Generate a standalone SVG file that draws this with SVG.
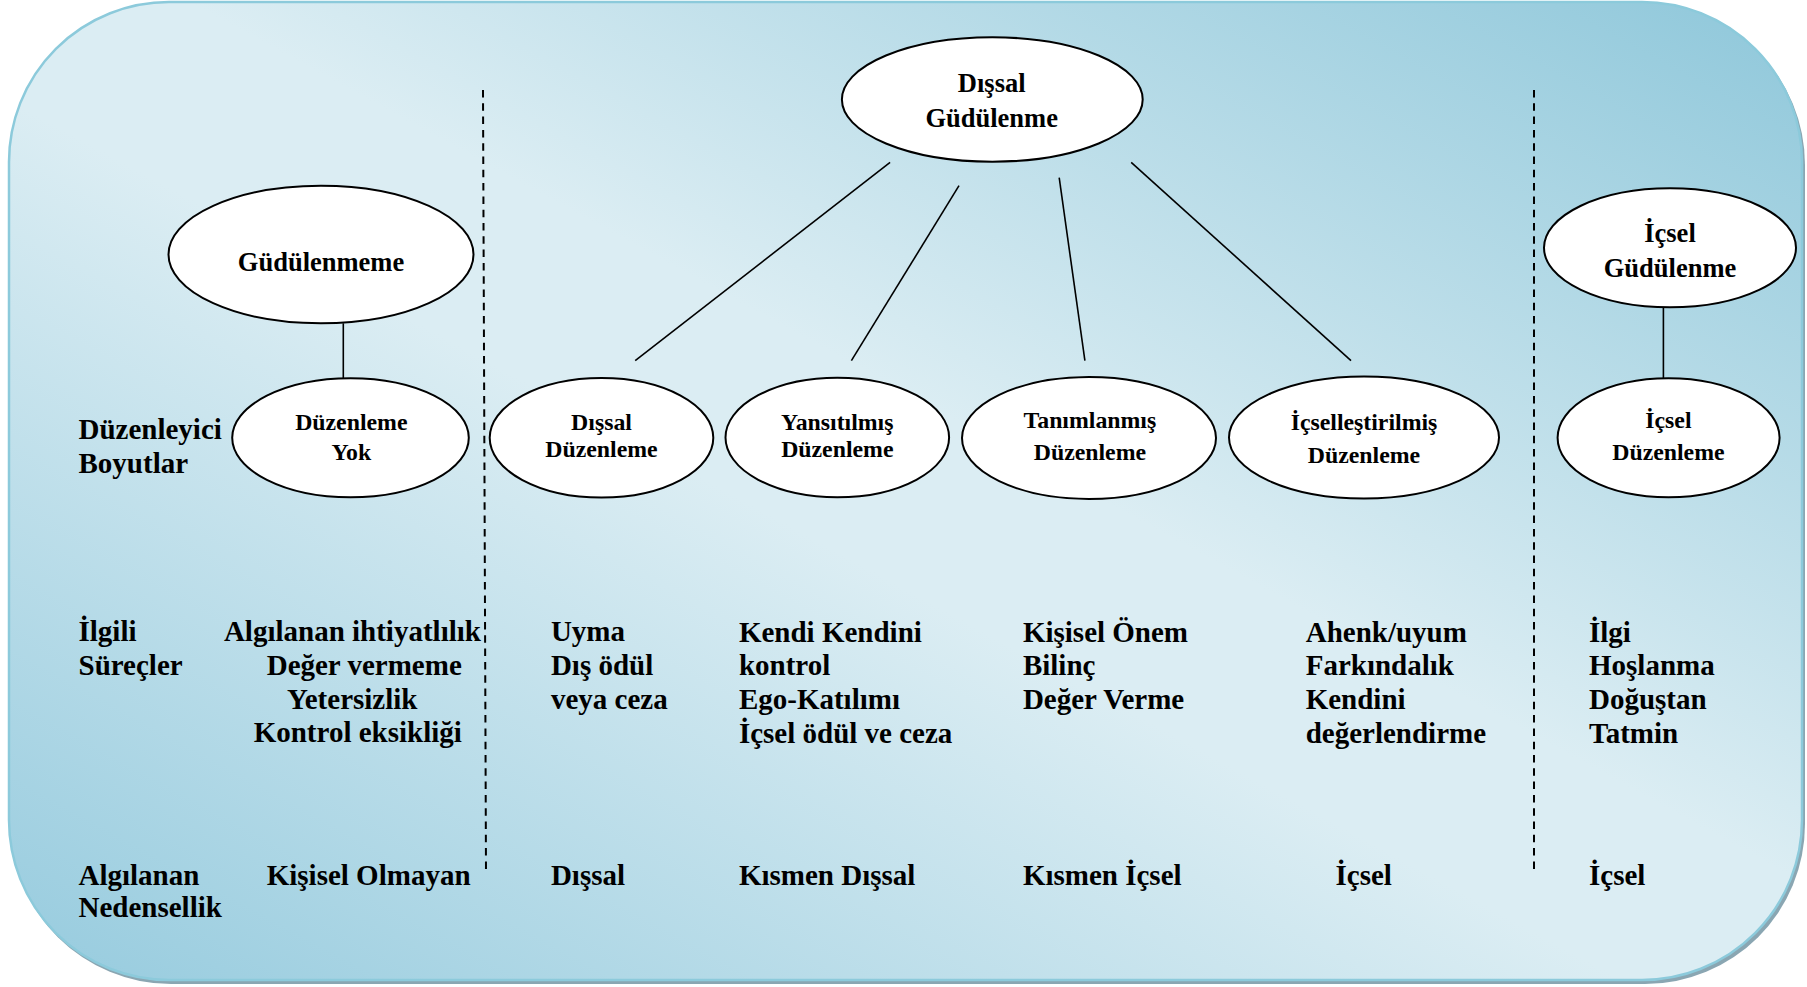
<svg xmlns="http://www.w3.org/2000/svg" width="1807" height="987" viewBox="0 0 1807 987">
  <style>
    .node { fill: #ffffff; stroke: #000000; stroke-width: 2; }
    .link { stroke: #000000; stroke-width: 1.6; fill: none; }
    .divider { stroke: #000000; stroke-width: 2; stroke-dasharray: 7.5 5.8; fill: none; }
    .big { font-size: 26.5px; text-anchor: middle; }
    .small { font-size: 23.8px; text-anchor: middle; }
    .body { font-size: 29px; }
  </style>
  <defs>
    <linearGradient id="panelFill" x1="1" y1="0" x2="0" y2="1">
      <stop offset="0" stop-color="#8ec7da"/>
      <stop offset="0.45" stop-color="#dbedf3"/>
      <stop offset="0.55" stop-color="#dbedf3"/>
      <stop offset="1" stop-color="#96cbde"/>
    </linearGradient>
  </defs>

  <!-- background panel with soft drop shadow -->
  <rect x="11" y="5" width="1794" height="979" rx="160" ry="160" fill="#8aa6b2"/>
  <rect x="9" y="2" width="1793" height="978" rx="160" ry="160" fill="url(#panelFill)" stroke="#8ccadb" stroke-width="2.5"/>

  <!-- dashed column dividers -->
  <g id="dividers">
    <line class="divider" x1="483" y1="90" x2="486" y2="872"/>
    <line class="divider" x1="1534" y1="90" x2="1534" y2="872"/>
  </g>

  <!-- connectors -->
  <g id="connectors">
    <line class="link" x1="343.3" y1="323.3" x2="343.3" y2="378.3"/>
    <line class="link" x1="890.1" y1="162.3" x2="635.2" y2="360.7"/>
    <line class="link" x1="959" y1="185.7" x2="851.4" y2="360.7"/>
    <line class="link" x1="1059.2" y1="177.7" x2="1084.9" y2="360.7"/>
    <line class="link" x1="1131.2" y1="162.3" x2="1351" y2="360.7"/>
    <line class="link" x1="1663.4" y1="307.3" x2="1663.4" y2="378.3"/>
  </g>

  <g font-family="'Liberation Serif', 'Times New Roman', Times, serif" font-weight="bold" fill="#000000">
  <!-- motivation nodes -->
  <g id="node-gudulenmeme">
    <ellipse class="node" cx="321" cy="254.5" rx="152.5" ry="68.8"/>
    <text class="big" x="321" y="270.7">Güdülenmeme</text>
  </g>
  <g id="node-dissal-gudulenme">
    <ellipse class="node" cx="992.3" cy="99.5" rx="150.4" ry="62.2"/>
    <text class="big" x="991.7" y="91.7">Dışsal</text>
    <text class="big" x="991.7" y="126.7">Güdülenme</text>
  </g>
  <g id="node-icsel-gudulenme">
    <ellipse class="node" cx="1670" cy="247.8" rx="126" ry="59.5"/>
    <text class="big" x="1670" y="241.7">İçsel</text>
    <text class="big" x="1670" y="276.7">Güdülenme</text>
  </g>

  <!-- regulation nodes -->
  <g id="node-duzenleme-yok">
    <ellipse class="node" cx="350.5" cy="437.8" rx="118.3" ry="59.5"/>
    <text class="small" x="351.3" y="430">Düzenleme</text>
    <text class="small" x="351.3" y="460">Yok</text>
  </g>
  <g id="node-dissal-duzenleme">
    <ellipse class="node" cx="601.5" cy="437.8" rx="111.8" ry="59.8"/>
    <text class="small" x="601.5" y="430">Dışsal</text>
    <text class="small" x="601.5" y="456.5">Düzenleme</text>
  </g>
  <g id="node-yansitilmis">
    <ellipse class="node" cx="837.3" cy="437.5" rx="111.8" ry="59.8"/>
    <text class="small" x="837.3" y="430">Yansıtılmış</text>
    <text class="small" x="837.3" y="456.7">Düzenleme</text>
  </g>
  <g id="node-tanimlanmis">
    <ellipse class="node" cx="1089" cy="438" rx="127" ry="61"/>
    <text class="small" x="1089.9" y="428.3">Tanımlanmış</text>
    <text class="small" x="1089.9" y="460">Düzenleme</text>
  </g>
  <g id="node-icsellestirilmis">
    <ellipse class="node" cx="1364" cy="437.5" rx="135" ry="61"/>
    <text class="small" x="1364" y="430">İçselleştirilmiş</text>
    <text class="small" x="1364" y="462.7">Düzenleme</text>
  </g>
  <g id="node-icsel-duzenleme">
    <ellipse class="node" cx="1668.6" cy="437.8" rx="111" ry="59.5"/>
    <text class="small" x="1668.4" y="428.3">İçsel</text>
    <text class="small" x="1668.4" y="460">Düzenleme</text>
  </g>

  <!-- row headings -->
  <g id="row-labels">
    <text class="body" x="78.5" y="439.3">Düzenleyici</text>
    <text class="body" x="78.5" y="473.3">Boyutlar</text>
    <text class="body" x="78.5" y="640.5">İlgili</text>
    <text class="body" x="78.5" y="675">Süreçler</text>
    <text class="body" x="78.5" y="885">Algılanan</text>
    <text class="body" x="78.5" y="916.7">Nedensellik</text>
  </g>

  <!-- related processes and perceived causality, per column -->
  <g id="col-gudulenmeme">
    <text class="body" x="223.9" y="640.5">Algılanan ihtiyatlılık</text>
    <text class="body" x="266.7" y="675">Değer vermeme</text>
    <text class="body" x="287" y="708.5">Yetersizlik</text>
    <text class="body" x="253.7" y="742">Kontrol eksikliği</text>
    <text class="body" x="266.7" y="885">Kişisel Olmayan</text>
  </g>
  <g id="col-dissal">
    <text class="body" x="550.9" y="640.5">Uyma</text>
    <text class="body" x="550.9" y="675">Dış ödül</text>
    <text class="body" x="550.9" y="708.5">veya ceza</text>
    <text class="body" x="550.9" y="885">Dışsal</text>
  </g>
  <g id="col-yansitilmis">
    <text class="body" x="738.9" y="641.5">Kendi Kendini</text>
    <text class="body" x="738.9" y="675">kontrol</text>
    <text class="body" x="738.9" y="709">Ego-Katılımı</text>
    <text class="body" x="738.9" y="742.5">İçsel ödül ve ceza</text>
    <text class="body" x="738.9" y="885">Kısmen Dışsal</text>
  </g>
  <g id="col-tanimlanmis">
    <text class="body" x="1022.9" y="641.5">Kişisel Önem</text>
    <text class="body" x="1022.9" y="675">Bilinç</text>
    <text class="body" x="1022.9" y="709">Değer Verme</text>
    <text class="body" x="1022.9" y="885">Kısmen İçsel</text>
  </g>
  <g id="col-icsellestirilmis">
    <text class="body" x="1305.7" y="641.5">Ahenk/uyum</text>
    <text class="body" x="1305.7" y="675">Farkındalık</text>
    <text class="body" x="1305.7" y="709">Kendini</text>
    <text class="body" x="1305.7" y="742.5">değerlendirme</text>
    <text class="body" x="1335.5" y="885">İçsel</text>
  </g>
  <g id="col-icsel">
    <text class="body" x="1589" y="641.5">İlgi</text>
    <text class="body" x="1589" y="675">Hoşlanma</text>
    <text class="body" x="1589" y="709">Doğuştan</text>
    <text class="body" x="1589" y="742.5">Tatmin</text>
    <text class="body" x="1589" y="885">İçsel</text>
  </g>
  </g>
</svg>
